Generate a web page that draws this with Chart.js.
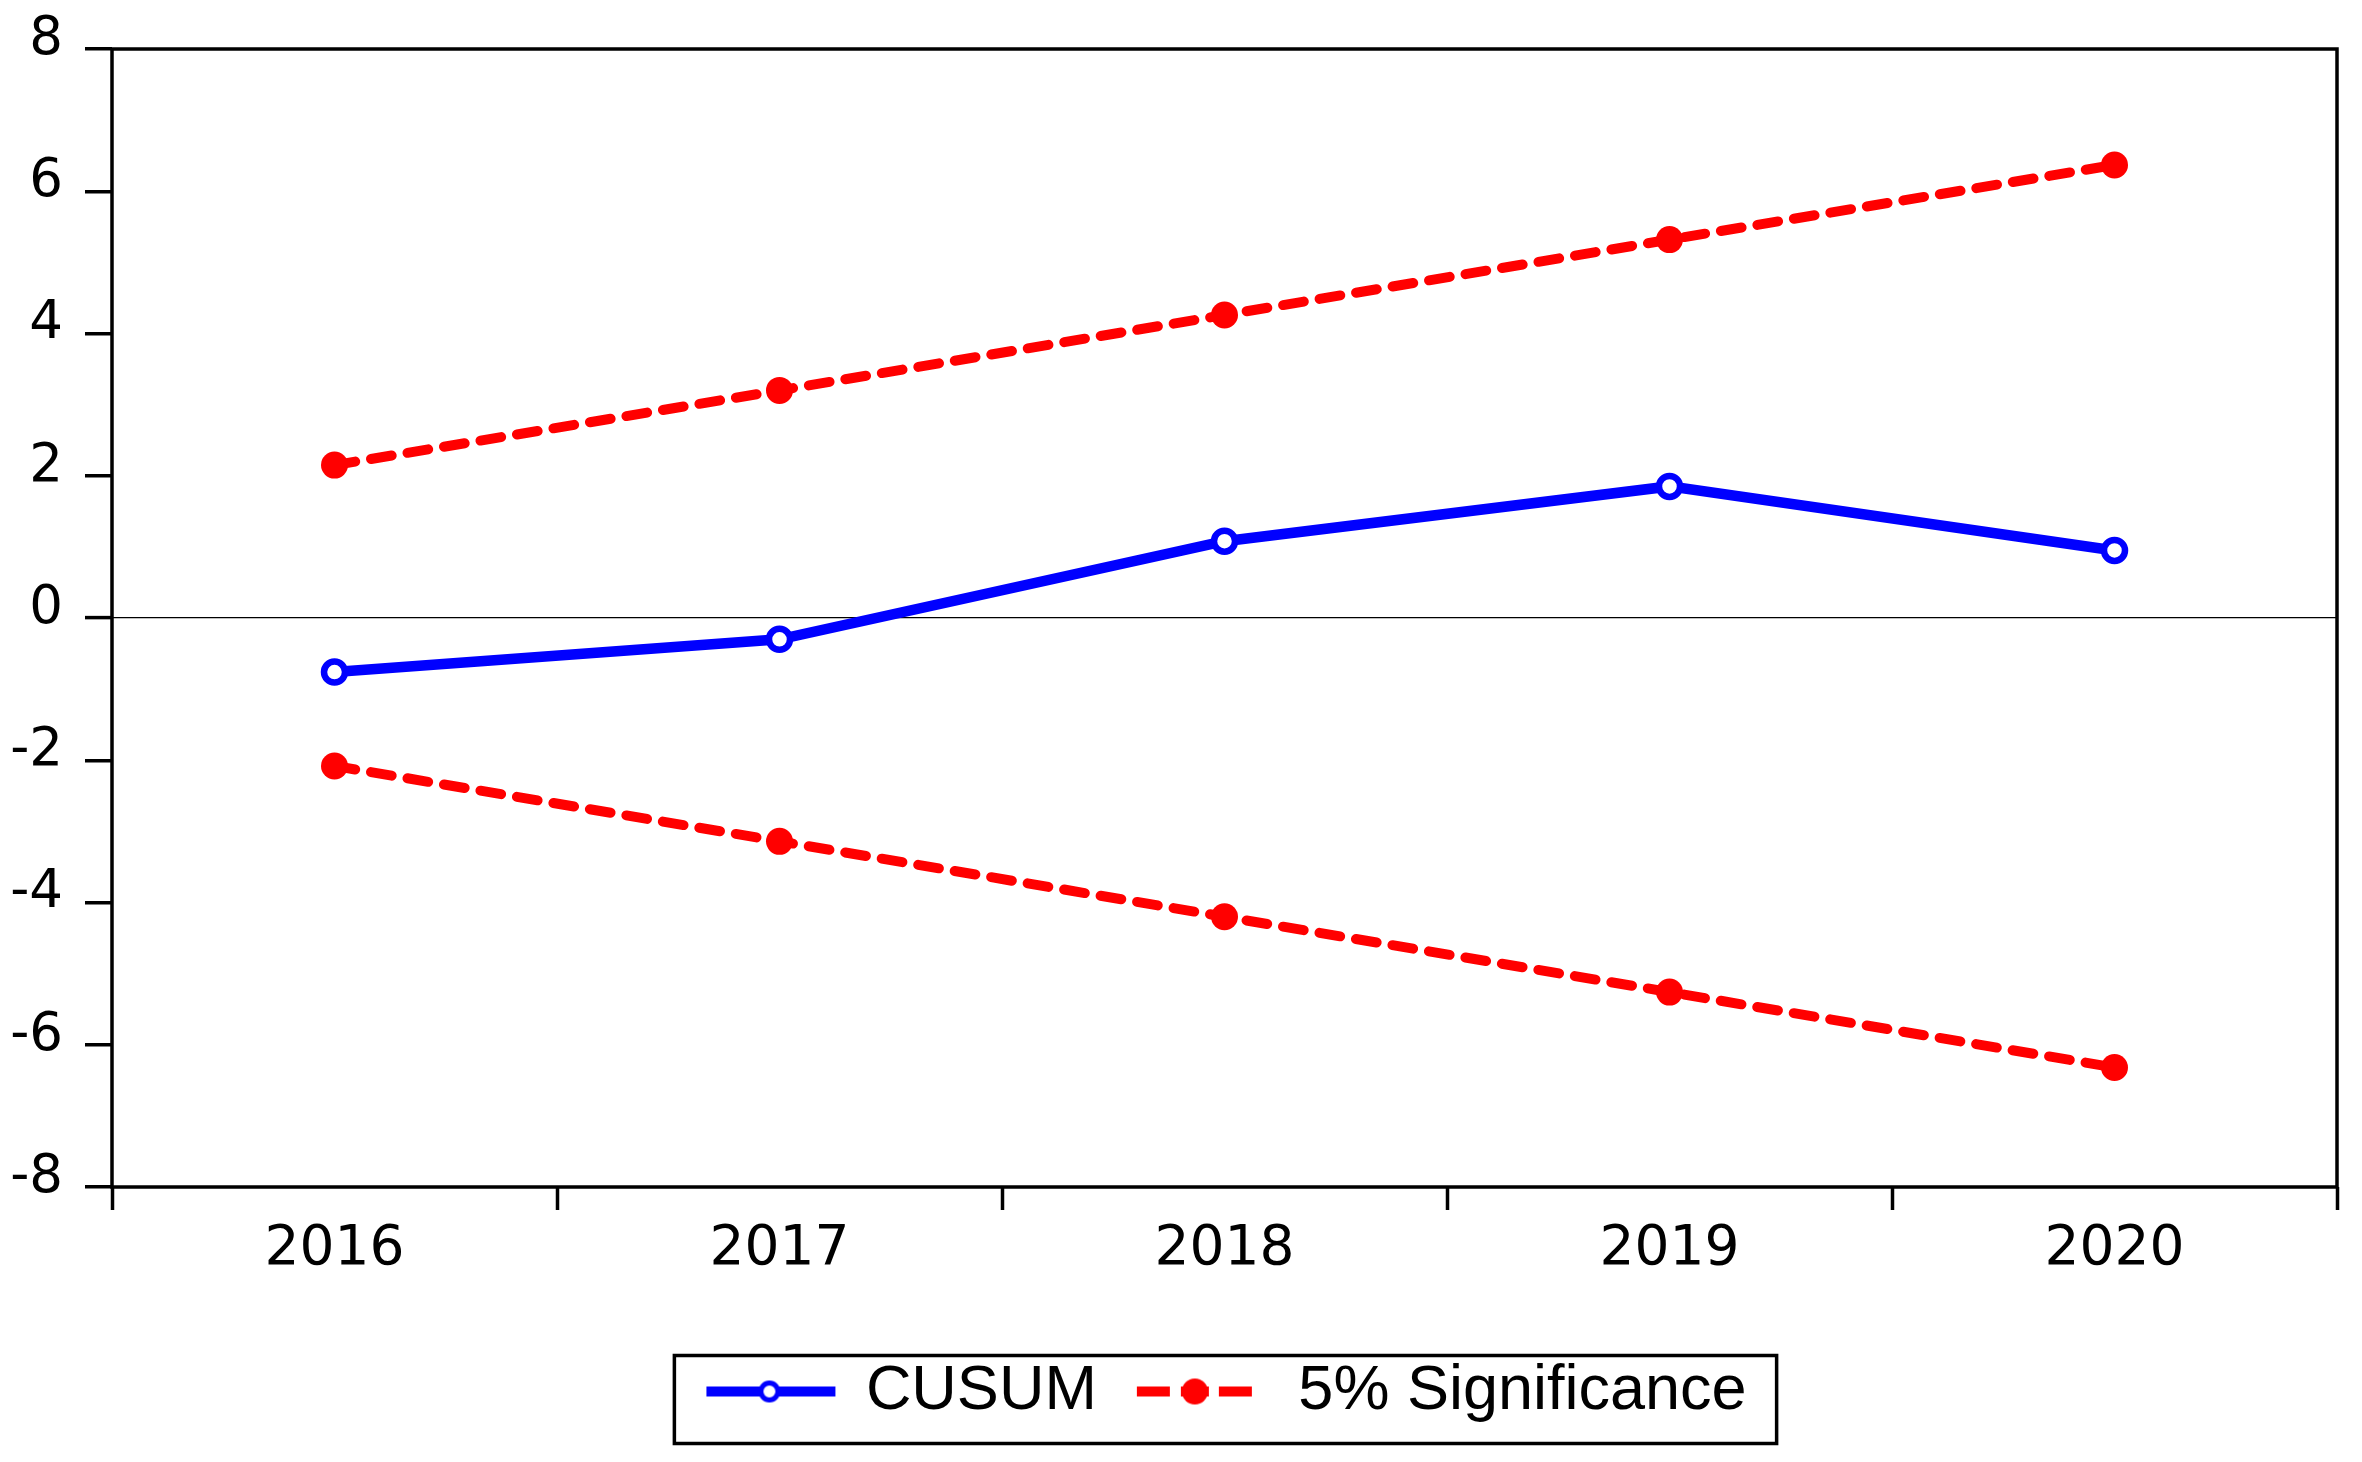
<!DOCTYPE html>
<html>
<head>
<meta charset="utf-8">
<script src="https://cdn.jsdelivr.net/npm/chart.js@4.4.1/dist/chart.umd.min.js"></script>
<style>
  html, body { margin: 0; padding: 0; background: #fff; }
  #chart { display: block; }
</style>
</head>
<body>
<canvas id="chart" width="2362" height="1462"></canvas>
<script>
// values
const years = ['2016', '2017', '2018', '2019', '2020'];
const cusum = [-0.76, -0.30, 1.08, 1.85, 0.95];
const upper = [2.15, 3.20, 4.26, 5.32, 6.37];
const lower = [-2.08, -3.14, -4.20, -5.26, -6.32];
const yMin = -8, yMax = 8, yStep = 2;

const BLUE = '#0000ff';
const RED = '#ff0000';

// legend samples: canvas is drawn centred on the legend box
function makeSample(kind) {
  const c = document.createElement('canvas');
  c.width = 180;
  c.height = 36;
  const g = c.getContext('2d');
  const mid = 18;
  if (kind === 'cusum') {
    g.strokeStyle = BLUE;
    g.lineWidth = 10;
    g.beginPath(); g.moveTo(28, mid); g.lineTo(157, mid); g.stroke();
    g.fillStyle = '#fff';
    g.lineWidth = 5;
    g.beginPath(); g.arc(91, mid, 8.5, 0, Math.PI * 2); g.fill(); g.stroke();
  } else {
    const x0 = 26;
    g.fillStyle = RED;
    g.fillRect(x0, mid - 5, 33, 10);
    g.fillRect(x0 + 44, mid - 5, 28, 10);
    g.fillRect(x0 + 82, mid - 5, 33, 10);
    g.beginPath(); g.arc(x0 + 58, mid, 13, 0, Math.PI * 2); g.fill();
  }
  return c;
}
const sampleCusum = makeSample('cusum');
const sampleSig = makeSample('sig');

// frame around the plot area and around the legend
const frames = {
  id: 'frames',
  afterDraw(chart) {
    const ctx = chart.ctx;
    const a = chart.chartArea;
    ctx.save();
    ctx.strokeStyle = '#000';
    ctx.lineWidth = 3.5;
    ctx.strokeRect(a.left, a.top, a.right - a.left, a.bottom - a.top);
    const hb = chart.legend.legendHitBoxes;
    if (hb && hb.length) {
      const first = hb[0], last = hb[hb.length - 1];
      const l = first.left - 28;
      const r = last.left + last.width + 30;
      const cy = first.top + first.height / 2;
      ctx.strokeRect(l, cy - 36, r - l, 88);
    }
    ctx.restore();
  }
};

Chart.defaults.color = '#000';
Chart.defaults.font.family = '"Liberation Sans", Arial, sans-serif';

new Chart(document.getElementById('chart'), {
  type: 'line',
  data: {
    labels: years,
    datasets: [
      {
        label: 'CUSUM',
        data: cusum,
        borderColor: BLUE,
        borderWidth: 10.5,
        pointRadius: 10.5,
        pointBorderWidth: 6.5,
        pointBackgroundColor: '#fff',
        pointBorderColor: BLUE,
        tension: 0
      },
      {
        label: '5% Significance',
        data: upper,
        borderColor: RED,
        borderWidth: 10,
        borderDash: [21, 16],
        borderCapStyle: 'round',
        pointRadius: 13.5,
        pointBorderWidth: 0,
        pointBackgroundColor: RED,
        tension: 0
      },
      {
        label: 'lower',
        data: lower,
        borderColor: RED,
        borderWidth: 10,
        borderDash: [21, 16],
        borderCapStyle: 'round',
        pointRadius: 13.5,
        pointBorderWidth: 0,
        pointBackgroundColor: RED,
        tension: 0
      }
    ]
  },
  options: {
    responsive: false,
    animation: false,
    devicePixelRatio: 1,
    events: [],
    layout: { padding: { top: 49, right: 25, bottom: 29, left: 0 } },
    plugins: {
      tooltip: { enabled: false },
      legend: {
        position: 'bottom',
        fullSize: false,
        labels: {
          usePointStyle: true,
          pointStyleWidth: 132,
          padding: 38,
          font: { size: 63 },
          filter: item => item.datasetIndex < 2,
          generateLabels: chart => chart.data.datasets.map((ds, i) => ({
            text: ds.label,
            datasetIndex: i,
            pointStyle: i === 0 ? sampleCusum : sampleSig,
            fillStyle: 'transparent',
            strokeStyle: 'transparent',
            lineWidth: 0,
            fontColor: '#000'
          }))
        }
      }
    },
    scales: {
      x: {
        type: 'category',
        offset: true,
        grid: {
          offset: true,
          drawOnChartArea: false,
          tickLength: 23,
          tickColor: '#000',
          tickWidth: 3.5
        },
        border: { display: false },
        ticks: {
          font: { family: '"DejaVu Sans", sans-serif', size: 55 },
          padding: 7,
          maxRotation: 0
        },
        afterFit: scale => { scale.height = 135; }
      },
      y: {
        min: yMin,
        max: yMax,
        grid: {
          color: ctx => (ctx.tick && ctx.tick.value === 0) ? '#000' : 'rgba(0,0,0,0)',
          lineWidth: ctx => (ctx.tick && ctx.tick.value === 0) ? 1.2 : 3.5,
          tickLength: 27,
          tickColor: '#000',
          tickWidth: 3.5
        },
        border: { display: false },
        ticks: {
          stepSize: yStep,
          font: { family: '"DejaVu Sans", sans-serif', size: 53, lineHeight: 0.85 },
          padding: 22,
          labelOffset: -9,
          callback: v => String(v)
        },
        afterFit: scale => { scale.width = 112; }
      }
    }
  },
  plugins: [frames]
});
</script>
</body>
</html>
